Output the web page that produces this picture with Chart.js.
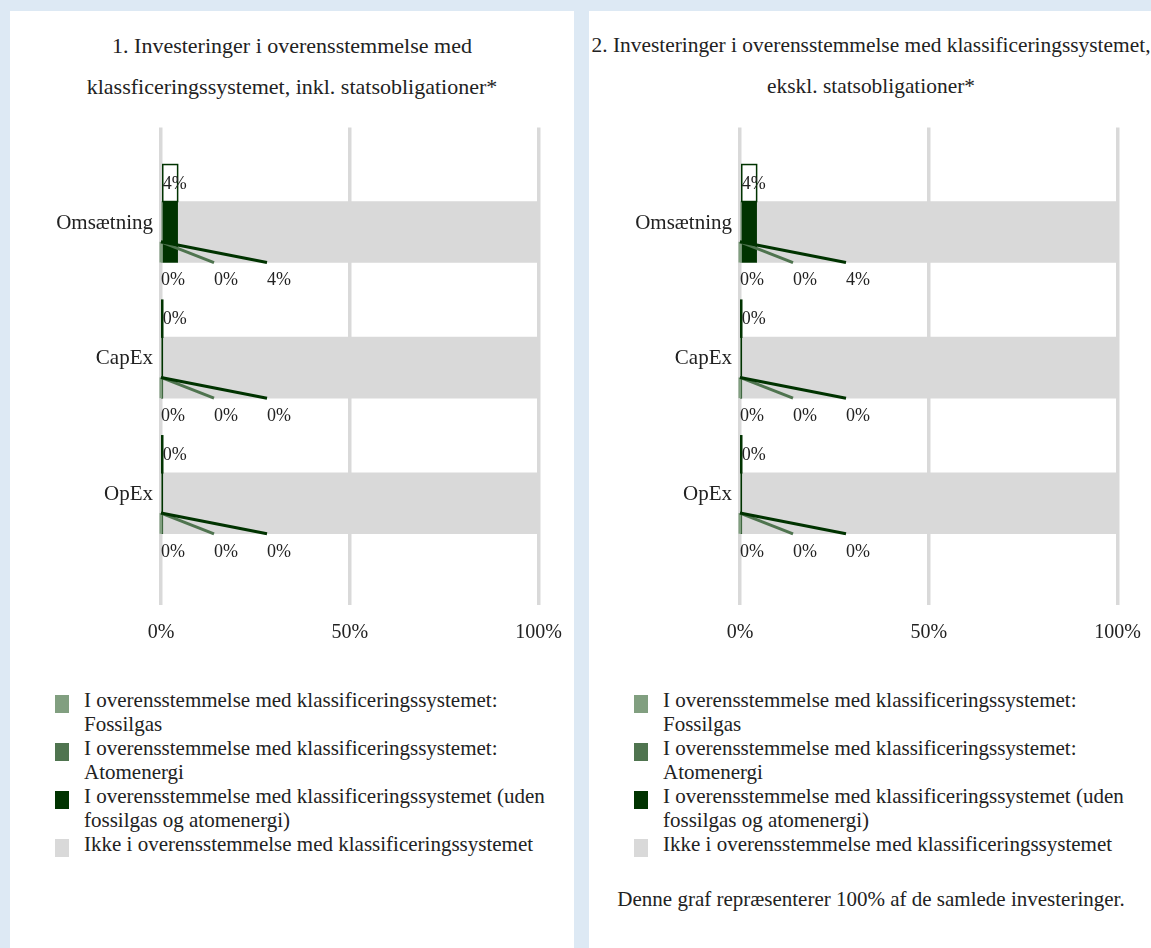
<!DOCTYPE html>
<html lang="da">
<head>
<meta charset="utf-8">
<title>Investeringer i overensstemmelse med klassificeringssystemet</title>
<script src="https://cdn.jsdelivr.net/npm/chart.js@4.4.1/dist/chart.umd.min.js"></script>
<style>
    html, body { margin: 0; padding: 0; }
    body {
        background: #dde9f4;
        width: 1151px;
        height: 948px;
        overflow: hidden;
        position: relative;
        font-family: "Liberation Serif", "Times New Roman", serif;
        color: #222;
    }
    .panel { position: absolute; top: 11px; width: 564px; height: 960px; background: #fff; }
    #panel1 { left: 10px; }
    #panel2 { left: 589px; }
    .titel { height: 82px; padding-top: 14px; font-size: 22px; line-height: 41px; text-align: center; white-space: nowrap; }
    #panel2 .titel { font-size: 21.4px; }
    .chart-box { position: relative; width: 568px; height: 566px; }
    .legend { list-style: none; margin: 0; padding: 0; position: absolute; top: 678px; left: 45px; width: 515px; font-size: 21px; }
    .legend li { display: flex; align-items: flex-start; line-height: 23.5px; margin-bottom: 1px; }
    .legend .swatch { flex: 0 0 14px; height: 18px; margin-top: 6px; margin-right: 15px; }
    .legend .tekst { max-width: 470px; }
    .note { position: absolute; left: 0; right: 0; top: 876px; text-align: center; font-size: 21px; }
</style>
</head>
<body>
<div class="panel" id="panel1">
    <div class="titel">1. Investeringer i overensstemmelse med<br>klassficeringssystemet, inkl. statsobligationer*</div>
    <div class="chart-box"><canvas id="graf1"></canvas></div>
    <ul class="legend" id="legend1"></ul>
</div>
<div class="panel" id="panel2">
    <div class="titel">2. Investeringer i overensstemmelse med klassificeringssystemet,<br>ekskl. statsobligationer*</div>
    <div class="chart-box"><canvas id="graf2"></canvas></div>
    <ul class="legend" id="legend2"></ul>
    <div class="note">Denne graf repræsenterer 100% af de samlede investeringer.</div>
</div>

<script>
// Kategorier og serier
const kategorier = ['Omsætning', 'CapEx', 'OpEx'];
const serieNavne = [
    'I overensstemmelse med klassificeringssystemet: Fossilgas',
    'I overensstemmelse med klassificeringssystemet: Atomenergi',
    'I overensstemmelse med klassificeringssystemet (uden fossilgas og atomenergi)',
    'Ikke i overensstemmelse med klassificeringssystemet'
];
const farver = ['#819f80', '#4f744f', '#003300', '#d9d9d9'];
const xTicks = [0, 50, 100];

// Graf 1: inkl. statsobligationer (%)
const fossilgasInkl = [0, 0, 0];
const atomenergiInkl = [0, 0, 0];
const tilpassetInkl = [4.4, 0.2, 0.2];
const ikkeTilpassetInkl = [95.6, 99.8, 99.8];

// Graf 2: ekskl. statsobligationer (%)
const fossilgasEkskl = [0, 0, 0];
const atomenergiEkskl = [0, 0, 0];
const tilpassetEkskl = [4.4, 0.2, 0.2];
const ikkeTilpassetEkskl = [95.6, 99.8, 99.8];

const skrift = '"Liberation Serif", "Times New Roman", serif';
Chart.defaults.font.family = skrift;
Chart.defaults.font.size = 20;
Chart.defaults.color = '#222';

// Etiketter: boks over søjlen og etiketter med linjer under
const etiketPlugin = {
    id: 'etiketter',
    afterDatasetsDraw(chart) {
        const ctx = chart.ctx;
        const forskyd = [0, 53, 106];
        const boksHoejde = 37;
        const metaTilpasset = chart.getDatasetMeta(2);
        ctx.save();
        ctx.font = '18px ' + skrift;
        ctx.textBaseline = 'middle';
        ctx.textAlign = 'left';

        metaTilpasset.data.forEach(function(bar, i) {
            const p = bar.getProps(['x', 'y', 'base', 'height'], true);
            const top = p.y - p.height / 2;
            const bund = p.y + p.height / 2;
            const vaerdi = chart.data.datasets[2].data[i].x;

            // boks over søjlen
            ctx.fillStyle = '#fff';
            ctx.fillRect(p.base, top - boksHoejde, p.x - p.base, boksHoejde);
            ctx.strokeStyle = farver[2];
            ctx.lineWidth = 1.5;
            ctx.strokeRect(p.base, top - boksHoejde, p.x - p.base, boksHoejde);
            ctx.fillStyle = '#222';
            ctx.fillText(Math.round(vaerdi) + '%', p.base, top - boksHoejde / 2 + 1);

            // linjer og etiketter under søjlen
            const start = chart.getDatasetMeta(0).data[i].getProps(['base'], true).base;
            const ankerY = top + p.height * 0.66;
            for (let d = 0; d < 3; d++) {
                const v = chart.data.datasets[d].data[i].x;
                const slutX = start + forskyd[d];
                ctx.beginPath();
                ctx.moveTo(start, ankerY);
                ctx.lineTo(slutX, bund);
                ctx.strokeStyle = farver[d];
                ctx.lineWidth = 3;
                ctx.stroke();
                ctx.fillStyle = '#222';
                ctx.fillText(Math.round(v) + '%', slutX, bund + 18);
            }
        });
        ctx.restore();
    }
};

function lavGraf(id, serier) {
    const datasets = serier.map(function(vaerdier, d) {
        return {
            label: serieNavne[d],
            data: vaerdier.map(function(v, i) { return { x: v, y: i }; }),
            backgroundColor: farver[d],
            borderWidth: 0,
            barThickness: 61
        };
    });

    return new Chart(document.getElementById(id), {
        type: 'bar',
        data: { datasets: datasets },
        plugins: [etiketPlugin],
        options: {
            indexAxis: 'y',
            responsive: true,
            maintainAspectRatio: false,
            animation: false,
            layout: { padding: { left: 0, right: 0, top: 16.5, bottom: 12 } },
            scales: {
                x: {
                    type: 'linear',
                    min: 0,
                    max: 100,
                    stacked: true,
                    afterBuildTicks: function(s) { s.ticks = xTicks.map(function(v) { return { value: v }; }); },
                    ticks: {
                        padding: 16,
                        callback: function(value) { return value + '%'; }
                    },
                    grid: { color: '#d9d9d9', lineWidth: 3.5, drawTicks: false },
                    border: { display: false }
                },
                y: {
                    type: 'linear',
                    reverse: true,
                    offset: false,
                    min: -0.77,
                    max: 2.75,
                    stacked: true,
                    afterBuildTicks: function(s) { s.ticks = kategorier.map(function(k, i) { return { value: i }; }); },
                    afterFit: function(s) { s.width = 151; },
                    ticks: {
                        padding: 8,
                        labelOffset: -9,
                        font: { size: 21 },
                        callback: function(value) { return kategorier[value]; }
                    },
                    grid: { display: false, drawTicks: false },
                    border: { display: false }
                }
            },
            plugins: {
                legend: { display: false },
                tooltip: { enabled: false }
            }
        }
    });
}

function lavLegende(id) {
    const ul = document.getElementById(id);
    serieNavne.forEach(function(navn, d) {
        const li = document.createElement('li');
        li.innerHTML = '<span class="swatch" style="background:' + farver[d] + '"></span><span class="tekst">' + navn + '</span>';
        ul.appendChild(li);
    });
}

document.addEventListener('DOMContentLoaded', function() {
    lavGraf('graf1', [fossilgasInkl, atomenergiInkl, tilpassetInkl, ikkeTilpassetInkl]);
    lavGraf('graf2', [fossilgasEkskl, atomenergiEkskl, tilpassetEkskl, ikkeTilpassetEkskl]);
    lavLegende('legend1');
    lavLegende('legend2');
});
</script>
</body>
</html>
